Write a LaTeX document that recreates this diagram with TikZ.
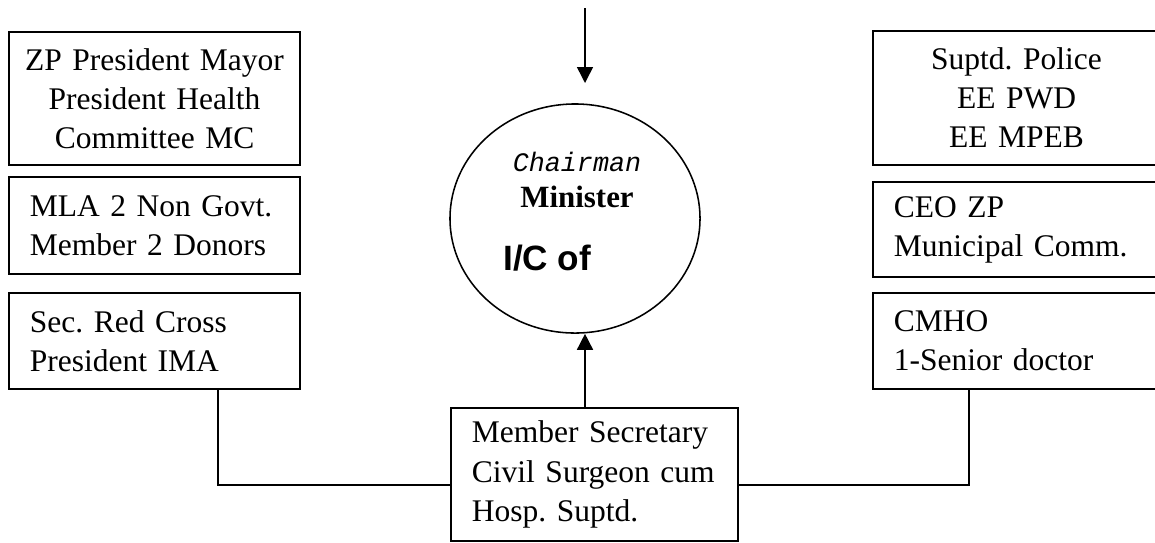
\documentclass[tikz,border=0pt]{standalone}
\usepackage{fontspec}
\setmainfont{Liberation Serif}
\newfontfamily\arialfont{Liberation Sans}
\newfontfamily\courierfont{Liberation Mono}
\usetikzlibrary{arrows.meta}
\usetikzlibrary{shapes.geometric}
\usetikzlibrary{positioning}
\frenchspacing
\tikzset{
	board/.style={rectangle, draw, line width=1.3pt, inner xsep=0.525cm, inner ysep=0pt,
		font=\fontsize{22.4}{27.8}\selectfont},
	lbox/.style={board, text width=6.225cm},
	rbox/.style={board, text width=6.125cm},
	cbox/.style={board, inner xsep=0.15cm, text width=6.975cm, align=center},
	chair/.style={ellipse, draw, line width=1.1pt, minimum width=6.25cm, minimum height=5.725cm},
	arrow/.style={draw, line width=1.1pt, -{Triangle[length=0.4cm, width=0.4cm]}},
	link/.style={draw, line width=1.1pt}
}
\begin{document}
\begin{tikzpicture}[x=0.025cm, y=-0.025cm]
\useasboundingbox (0,0) rectangle (1155,542);

\node[cbox, minimum height=3.325cm] (zp) at (154.5,98.5)
	{ZP President Mayor\\President Health\\Committee MC};
\node[lbox, align=left, minimum height=2.425cm] (mla) at (154.5,225.5)
	{MLA 2 Non Govt.\\Member 2 Donors};
\node[lbox, align=left, minimum height=2.4cm] (redcross) at (154.5,341)
	{Sec. Red Cross\\President IMA};

\node[rbox, align=center, minimum height=3.35cm] (police) at (1016.5,98)
	{Suptd. Police\\EE PWD\\EE MPEB};
\node[rbox, align=left, minimum height=2.375cm] (ceo) at (1016.5,229.5)
	{CEO ZP\\Municipal Comm.};
\node[rbox, align=left, minimum height=2.4cm] (cmho) at (1016.5,341)
	{CMHO\\1-Senior doctor};

\node[rbox, align=left, minimum height=3.325cm] (membersec) at (594.5,474.5)
	{Member Secretary\\Civil Surgeon cum\\Hosp. Suptd.};

\node[chair] (chair) at (575,218.5) {};
\node[inner sep=0pt, font=\courierfont\itshape\fontsize{19}{20}\selectfont] (chairman) at (577,162) {Chairman};
\node[inner sep=0pt, font=\bfseries\fontsize{22}{24}\selectfont] (minister) at (577,197) {Minister};
\node[inner sep=0pt, anchor=west, font=\arialfont\bfseries\fontsize{25}{28}\selectfont] (ic) at (503,258) {I/C of};

\coordinate (intop) at (585,8);
\coordinate (inend) at (585,83);
\coordinate (axis) at (585,0);
\coordinate (ljoin) at (218,485);
\coordinate (rjoin) at (969,485);

\draw [arrow] (intop) -- (inend);
\draw [arrow] (membersec.north -| axis) -- (chair.south -| axis);

\draw [link] (redcross.south -| ljoin) -- (ljoin) -- (ljoin -| membersec.west);
\draw [link] (cmho.south -| rjoin) -- (rjoin) -- (rjoin -| membersec.east);

\end{tikzpicture}
\end{document}
